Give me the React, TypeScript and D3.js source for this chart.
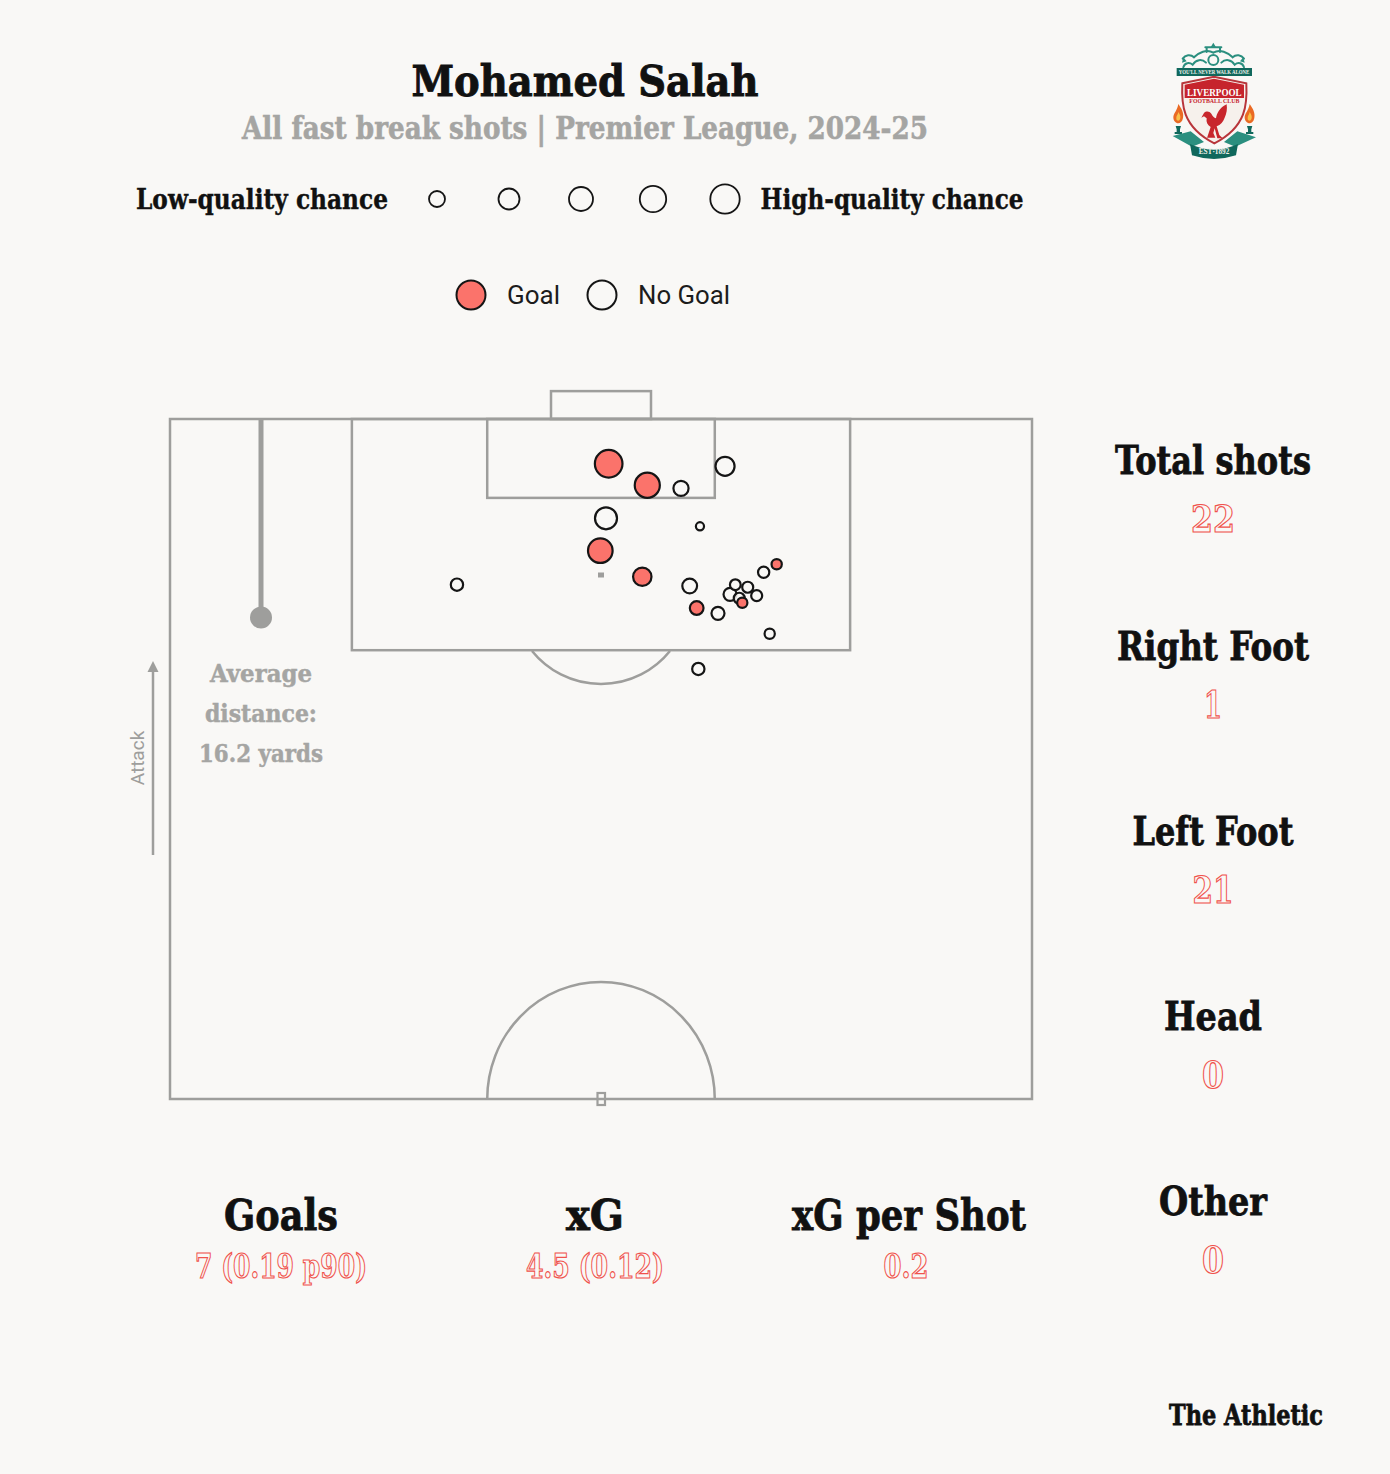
import React from "react";
import * as d3 from "d3";

const BG = "#f9f8f6";
const GREY = "#9e9e9c";
const RED = "#fb736b";
const TEXT_RED = "#f0524c";
const SLAB = "'DejaVu Serif', serif";

// shot positions: pitch % (x across, y towards goal), xG and result
const shotX = [50.89, 55.37, 59.28, 64.39, 50.58, 61.48, 49.92, 54.79, 33.29, 60.29, 61.1, 63.57, 64.97, 65.58, 67.02, 68.06, 66.04, 66.39, 68.87, 70.38, 69.57, 61.29];
const shotY = [96.71, 95.13, 94.9, 96.52, 92.7, 92.11, 90.32, 88.4, 87.82, 87.72, 86.1, 85.71, 87.11, 87.82, 87.63, 87.01, 86.82, 86.49, 88.73, 89.32, 84.21, 81.62];
const shotXG = [0.63, 0.52, 0.19, 0.3, 0.4, 0.055, 0.5, 0.28, 0.125, 0.18, 0.155, 0.14, 0.14, 0.095, 0.1, 0.1, 0.1, 0.087, 0.105, 0.087, 0.087, 0.125];
const shotGoal = [1, 1, 0, 0, 0, 0, 1, 1, 0, 0, 1, 0, 0, 0, 0, 0, 0, 1, 0, 1, 0, 0];

const sizeLegend = [8, 10.5, 12, 13.2, 14.7];
const sideLabels = ["Total shots", "Right Foot", "Left Foot", "Head", "Other"];
const sideValues = ["22", "1", "21", "0", "0"];
const bottomLabels = ["Goals", "xG", "xG per Shot"];
const bottomValues = ["7 (0.19 p90)", "4.5 (0.12)", "0.2"];
const averageDistanceY = 85.4;

const x = d3.scaleLinear().domain([0, 100]).range([170, 1032]);
const y = d3.scaleLinear().domain([50, 100]).range([1099, 419]);
const r = d3.scaleSqrt().domain([0, 1]).range([0, 17.4]);

function Heavy({ tx, ty, size, w, fill = "#111", sw = 0.7, anchor = "middle", children }: any) {
  return (
    <text x={tx} y={ty} textAnchor={anchor} fontFamily={SLAB} fontWeight={700} fontSize={size} fill={fill} stroke={fill} strokeWidth={sw}
      textLength={w} lengthAdjust="spacingAndGlyphs">{children}</text>
  );
}

function Outline({ tx, ty, size, w, children }: any) {
  return (
    <text x={tx} y={ty} textAnchor="middle" fontFamily={SLAB} fontWeight={700} fontSize={size} fill={BG} stroke={TEXT_RED} strokeWidth={1.2}
      textLength={w} lengthAdjust="spacingAndGlyphs">{children}</text>
  );
}

function Crest() {
  const teal = "#2b8f7f";
  const dark = "#10685c";
  const flame = "M0 -34 c10 14 17 26 14 42 c-2 11 -9 16 -14 16 c-8 0 -15 -7 -15 -18 c0 -12 12 -20 15 -40z";
  return (
    <g transform="translate(1150,30) scale(0.3333)">
      <g fill="none" stroke={teal} strokeWidth="6" strokeLinecap="round">
        <path d="M190 68 c-20 -12 -44 0 -58 14 c-10 -10 -26 -8 -34 4 M190 68 c20 -12 44 0 58 14 c10 -10 26 -8 34 4" />
        <path d="M100 112 c4 -14 18 -16 28 -8 c10 -16 28 -18 40 -6 M282 112 c-4 -14 -18 -16 -28 -8 c-10 -16 -28 -18 -40 -6" />
        <circle cx="190" cy="90" r="15" />
        <path d="M166 52 h48 M170 52 v14 M210 52 v14" />
      </g>
      <path d="M190 38 l9 15 h-18z" fill={teal} />
      <path d="M100 82 l10 12 l-14 4z M280 82 l-10 12 l14 4z" fill={teal} />
      <rect x="80" y="114" width="226" height="24" fill={dark} />
      <text x="192" y="132" textAnchor="middle" fontFamily="'Liberation Serif'" fontWeight="700" fontSize="18" fill="#f1f1ea" textLength="212" lengthAdjust="spacingAndGlyphs">YOU'LL NEVER WALK ALONE</text>
      <path d="M97 160 L192 140 L289 160 c3 60 2 130 -96 180 c-98 -50 -99 -120 -96 -180z" fill="#f6f1ec" stroke="#b8353a" strokeWidth="6" />
      <path d="M104 164 L192 146 L282 164 V204 H104z" fill="#c6242c" />
      <text x="193" y="198" textAnchor="middle" fontFamily="'Liberation Serif'" fontWeight="700" fontSize="34" fill="#fff" textLength="164" lengthAdjust="spacingAndGlyphs">LIVERPOOL</text>
      <text x="193" y="220" textAnchor="middle" fontFamily="'Liberation Serif'" fontWeight="700" fontSize="17" fill="#c6242c" textLength="150" lengthAdjust="spacingAndGlyphs">FOOTBALL CLUB</text>
      <path d="M170 327 l12 -36 c-10 -6 -14 -14 -12 -26 l-8 -6 l-8 4 l8 -14 c6 -6 16 -6 22 2 c4 8 8 12 14 14 c2 -16 12 -30 24 -38 l8 -4 c2 14 0 28 -6 40 c-4 12 -12 22 -24 26 l8 26 l10 10 h-16 l-8 -30 l-4 14 l6 14 h-26z" fill="#c8262c" />
      <g transform="translate(85,256)"><path d={flame} fill="#ea6a24" /><path d="M0 -10 c5 7 7 12 6 18 c-1 6 -4 8 -6 8 c-4 0 -7 -4 -6 -9 c0 -6 5 -9 6 -17z" fill="#f8c14a" /></g>
      <g transform="translate(299,256)"><path d={flame} fill="#ea6a24" /><path d="M0 -10 c5 7 7 12 6 18 c-1 6 -4 8 -6 8 c-4 0 -7 -4 -6 -9 c0 -6 5 -9 6 -17z" fill="#f8c14a" /></g>
      <path d="M77 288 h16 l-3 10 v8 h6 v6 h-22 v-6 h6 v-8z M291 288 h16 l-3 10 v8 h6 v6 h-22 v-6 h6 v-8z" fill={dark} />
      <path d="M68 318 l54 -14 l40 32 l-36 14z M318 322 l-56 -18 l-40 32 l34 14z" fill={teal} />
      <path d="M120 342 q72 34 144 0 l-6 34 q-66 22 -132 0z" fill={dark} />
      <text x="192" y="372" textAnchor="middle" fontFamily="'Liberation Serif'" fontWeight="700" fontSize="22" fill="#f1f1ea" textLength="92" lengthAdjust="spacingAndGlyphs">EST·1892</text>
    </g>
  );
}

export default function App() {
  const avgY = y(averageDistanceY);
  const sideY = [474, 660, 845, 1030, 1215];
  const sideW = [196, 192, 161, 98, 108];
  const valW = [44, 18, 41, 22, 22];
  const bottomX = [281, 595, 909];
  const bottomW = [114, 58, 234];
  const bottomValX = [281, 595, 906];
  const bottomValW = [172, 138, 45];
  const centreL = x(36.8);
  const centreR = x(63.2);
  const centreRx = (centreR - centreL) / 2;
  return (
    <svg width={1390} height={1474} viewBox="0 0 1390 1474" style={{ position: "absolute", left: 0, top: 0, background: BG }}>
      <rect width={1390} height={1474} fill={BG} />
      <Heavy tx={585} ty={96} size={43} w={347} sw={0.9}>Mohamed Salah</Heavy>
      <Heavy tx={585} ty={139} size={31} w={686} fill="#a5a5a3" sw={0.6}>All fast break shots | Premier League, 2024-25</Heavy>
      <Crest />

      <Heavy tx={262} ty={209} size={27} w={252} sw={0.4}>Low-quality chance</Heavy>
      <Heavy tx={892} ty={209} size={27} w={263} sw={0.4}>High-quality chance</Heavy>
      {sizeLegend.map((v, i) => (
        <circle key={i} cx={437 + i * 72} cy={199} r={v} fill={BG} stroke="#151515" strokeWidth={1.8} />
      ))}
      <circle cx={471} cy={295} r={14.5} fill={RED} stroke="#151515" strokeWidth={2} />
      <text x={507} y={304} fontFamily="Roboto, sans-serif" fontSize={26} fill="#1c1c1c" textLength={53} lengthAdjust="spacingAndGlyphs">Goal</text>
      <circle cx={602} cy={295} r={14.5} fill={BG} stroke="#151515" strokeWidth={2} />
      <text x={638} y={304} fontFamily="Roboto, sans-serif" fontSize={26} fill="#1c1c1c" textLength={92} lengthAdjust="spacingAndGlyphs">No Goal</text>

      <g fill="none" stroke={GREY} strokeWidth={2.5}>
        <rect x={x(0)} y={y(100)} width={x(100) - x(0)} height={y(50) - y(100)} />
        <rect x={x(21.1)} y={y(100)} width={x(78.9) - x(21.1)} height={y(83) - y(100)} />
        <rect x={centreL} y={y(100)} width={centreR - centreL} height={y(94.2) - y(100)} />
        <rect x={x(44.2)} y={y(102.05)} width={x(55.8) - x(44.2)} height={y(100) - y(102.05)} />
        <path d="M532 651 A88.6 88.6 0 0 0 670 651" />
        <path d={`M${centreL} ${y(50)} A${centreRx} 117 0 0 1 ${centreR} ${y(50)}`} />
        <rect x={597.5} y={1093} width={7.5} height={12} strokeWidth={2.2} />
      </g>
      <rect x={598} y={572.5} width={6} height={5} fill={GREY} />

      {shotX.map((_, i) => (
        <circle key={i} cx={x(shotX[i])} cy={y(shotY[i])} r={r(shotXG[i])} fill={shotGoal[i] ? RED : BG} fillOpacity={shotGoal[i] ? 1 : 0.85} stroke="#151515" strokeWidth={2.2} />
      ))}

      <line x1={261} x2={261} y1={y(100)} y2={avgY} stroke={GREY} strokeWidth={5} />
      <circle cx={261} cy={avgY} r={11} fill={GREY} />
      <g>
        <Heavy tx={261} ty={682} size={25} w={102} fill="#a5a5a3" sw={0.5}>Average</Heavy>
        <Heavy tx={261} ty={722} size={25} w={112} fill="#a5a5a3" sw={0.5}>distance:</Heavy>
        <Heavy tx={261} ty={762} size={25} w={124} fill="#a5a5a3" sw={0.5}>16.2 yards</Heavy>
      </g>
      <line x1={153} x2={153} y1={855} y2={668} stroke={GREY} strokeWidth={2.5} />
      <path d="M153 661 L158.5 672 H147.5 Z" fill={GREY} />
      <text transform="translate(144,758) rotate(-90)" textAnchor="middle" fontFamily="Roboto, sans-serif" fontSize={19} fill={GREY}>Attack</text>

      {sideLabels.map((s, i) => (
        <g key={s}>
          <Heavy tx={1213} ty={sideY[i]} size={39} w={sideW[i]} sw={0.8}>{s}</Heavy>
          <Outline tx={1213} ty={sideY[i] + 58} size={37} w={valW[i]}>{sideValues[i]}</Outline>
        </g>
      ))}
      {bottomLabels.map((s, i) => (
        <g key={s}>
          <Heavy tx={bottomX[i]} ty={1230} size={42} w={bottomW[i]} sw={0.8}>{s}</Heavy>
          <Outline tx={bottomValX[i]} ty={1278} size={33} w={bottomValW[i]}>{bottomValues[i]}</Outline>
        </g>
      ))}
      <Heavy tx={1246} ty={1425} size={28} w={154} sw={0.8}>The Athletic</Heavy>
    </svg>
  );
}
